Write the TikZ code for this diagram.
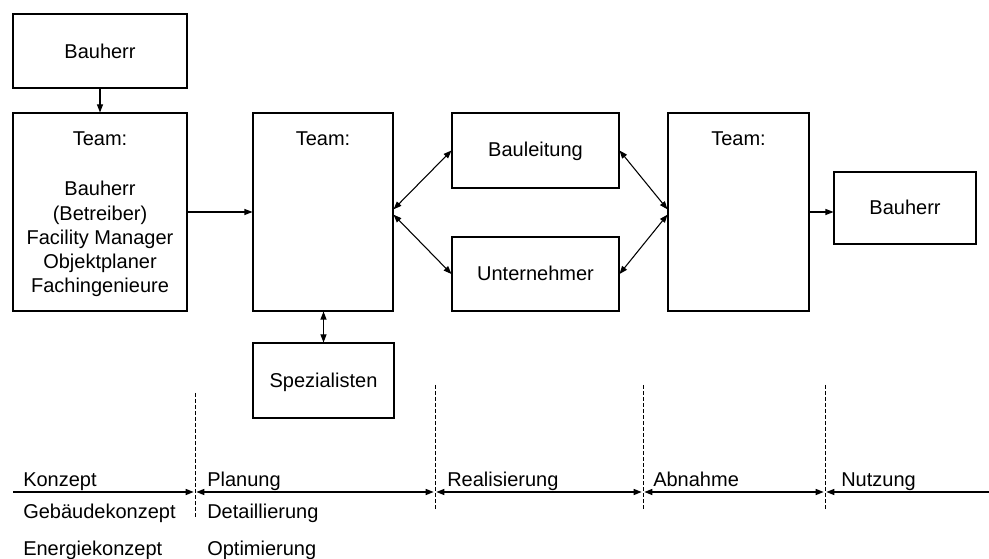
\documentclass[tikz,border=0pt]{standalone}
\usepackage{fontspec}
\setmainfont{Liberation Sans}
\usetikzlibrary{arrows.meta}
\begin{document}
\begin{tikzpicture}[x=0.75pt,y=-0.75pt,
  >={Triangle[length=6pt,width=4.5pt]},
  box/.style={draw, line width=0.8pt, inner sep=0pt, anchor=center},
  lbl/.style={inner sep=0pt, anchor=base, font=\fontsize{15}{18}\selectfont},
  tlbl/.style={inner sep=0pt, anchor=base west, font=\fontsize{15}{18}\selectfont},
  conn/.style={line width=0.8pt, ->},
  dconn/.style={line width=0.8pt, <->},
  tl/.style={line width=1pt},
  sep/.style={line width=0.7pt, dash pattern=on 3pt off 1.5pt}]
\useasboundingbox (0,0) rectangle (989,559);

% boxes
\node[box, minimum width=130.5pt, minimum height=55.5pt] (bauherrA) at (100,51) {};
\node[box, minimum width=130.5pt, minimum height=148.5pt] (team1) at (100,212) {};
\node[box, minimum width=105pt, minimum height=148.5pt] (team2) at (323,212) {};
\node[box, minimum width=125.25pt, minimum height=56.25pt] (bauleitung) at (535.5,150.5) {};
\node[box, minimum width=125.25pt, minimum height=55.5pt] (unternehmer) at (535.5,274) {};
\node[box, minimum width=105.75pt, minimum height=148.5pt] (team3) at (738.5,212) {};
\node[box, minimum width=106.5pt, minimum height=54pt] (bauherrB) at (905,208) {};
\node[box, minimum width=105.75pt, minimum height=56.25pt] (spez) at (323.5,380.5) {};

% box texts
\node[lbl] (tA) at (100,58.5) {Bauherr};
\node[lbl] (t1a) at (100,146) {Team:};
\node[lbl] (t1b) at (100,196) {Bauherr};
\node[lbl] (t1c) at (100,220.25) {(Betreiber)};
\node[lbl] (t1d) at (100,244.5) {Facility Manager};
\node[lbl] (t1e) at (100,268.75) {Objektplaner};
\node[lbl] (t1f) at (100,293) {Fachingenieure};
\node[lbl] (t2) at (323,146) {Team:};
\node[lbl] (tbl) at (535.5,157) {Bauleitung};
\node[lbl] (tun) at (535.5,281) {Unternehmer};
\node[lbl] (t3) at (738.5,146) {Team:};
\node[lbl] (tB) at (905,215) {Bauherr};
\node[lbl] (tsp) at (323.5,388) {Spezialisten};

% connectors
\draw[conn] (bauherrA.south) -- (team1.north);
\draw[conn] (team1.east) -- (team2.west);
\draw[dconn] ([yshift=2pt]team2.east) -- (bauleitung.west);
\draw[dconn] ([yshift=-2pt]team2.east) -- (unternehmer.west);
\draw[dconn] (bauleitung.east) -- ([yshift=2pt]team3.west);
\draw[dconn] (unternehmer.east) -- ([yshift=-2pt]team3.west);
\draw[conn] (team3.east) -- (team3.east -| bauherrB.west);
\draw[dconn] (team2.south -| spez.north) -- (spez.north);

% timeline
\coordinate (t0) at (13,492);
\coordinate (d1) at (195,492);
\coordinate (d2) at (435,492);
\coordinate (d3) at (643,492);
\coordinate (d4) at (825,492);
\coordinate (tE) at (989,492);
\draw[sep] (195,393) -- (195,517);
\draw[sep] (435,385) -- (435,509);
\draw[sep] (643,385) -- (643,510);
\draw[sep] (825,385) -- (825,510);
\draw[tl,->] (t0) -- ([xshift=-1pt]d1);
\draw[tl,<->] ([xshift=1pt]d1) -- ([xshift=-1pt]d2);
\draw[tl,<->] ([xshift=1pt]d2) -- ([xshift=-1pt]d3);
\draw[tl,<->] ([xshift=1pt]d3) -- ([xshift=-1pt]d4);
\draw[tl,<-] ([xshift=1pt]d4) -- (tE);

% timeline labels
\node[tlbl] (k1) at (23,486) {Konzept};
\node[tlbl] (k2) at (23,518) {Gebäudekonzept};
\node[tlbl] (k3) at (23,555) {Energiekonzept};
\node[tlbl] (p1) at (207,486) {Planung};
\node[tlbl] (p2) at (207,518) {Detaillierung};
\node[tlbl] (p3) at (207,555) {Optimierung};
\node[tlbl] (r1) at (447,486) {Realisierung};
\node[tlbl] (a1) at (653,486) {Abnahme};
\node[tlbl] (n1) at (841,486) {Nutzung};
\end{tikzpicture}
\end{document}
